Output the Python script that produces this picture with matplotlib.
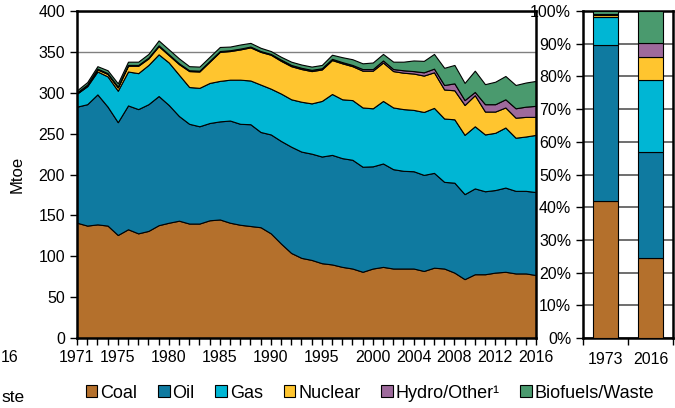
import numpy as np
import matplotlib.pyplot as plt
from matplotlib.patches import Patch

plt.rcParams['font.family'] = ['Liberation Sans', 'DejaVu Sans']

# %% datos (Mtoe)
anios = np.arange(1971, 2017)

carbon = [141, 137.5, 139, 137.5, 126, 133, 128, 131, 138, 141,
          143.5, 140, 140, 144, 145, 141, 138.5, 137, 135.5, 128,
          115.5, 104, 98, 95.5, 91.5, 90, 87, 85, 81, 85,
          87, 85, 85, 85, 82, 86, 85, 80, 72, 78,
          78, 80, 81, 79, 79, 77]
petroleo = [142, 148.5, 159, 145.5, 138, 151.5, 152, 155, 158, 144,
            128, 122, 119, 119, 120, 125, 123.5, 124.5, 116.5, 121,
            125.5, 130, 130, 130, 130.5, 134, 133, 133, 128.5, 125,
            126.5, 121.5, 119.5, 119, 117.5, 116, 106, 110, 104, 105,
            101.5, 101, 103, 101, 101, 101.5]
gas = [16, 22, 28, 37, 38.5, 41.5, 44, 48, 51, 52,
       50.5, 45, 47, 49, 49.5, 50, 54, 53.5, 58, 56,
       58, 58, 61, 61.5, 68, 74.5, 72, 73, 72.5, 71,
       76.5, 75.5, 75.5, 75, 77, 79.5, 77.5, 77.5, 72.5, 76,
       69.5, 70, 73.5, 65, 66.5, 70]
nuclear = [0.5, 1, 2.5, 3, 4, 7, 9, 8, 10, 9,
           13, 19.5, 20, 26, 35.5, 35, 37, 40.5, 40, 41.5,
           40, 40.5, 40, 39.5, 38.5, 41.5, 44, 41.5, 45, 46,
           47, 44.5, 44.5, 44.5, 44.5, 43.5, 35.5, 35.5, 36.5, 38,
           28, 26, 24.5, 24.5, 24, 22]
hidro = [1, 1, 1, 1, 1, 1, 1, 1, 1, 1,
         1, 1, 1, 1, 1, 1, 1, 1, 1, 1,
         1.5, 1.5, 1.5, 1.5, 1.5, 1.5, 1.5, 1.5, 2, 2,
         2.5, 2.5, 3, 3, 4, 4.5, 5.5, 8.5, 6, 4,
         9, 9, 10, 11.5, 12.5, 13.5]
biocomb = [2.5, 3, 3, 3.5, 4, 4, 4, 4.5, 6, 6,
           6, 5, 5, 5, 5, 4.5, 5, 4.5, 4, 3.5,
           3.5, 4, 4, 4, 4, 5, 6, 7, 7, 8,
           8, 9, 10.5, 13, 14, 18, 21, 22.5, 21, 26,
           24.5, 27.5, 28.5, 28.5, 29.5, 30.5]

nombres = ['Coal', 'Oil', 'Gas', 'Nuclear', 'Hydro/Other\u00b9', 'Biofuels/Waste']
colores = ['#B4702C', '#0F7AA0', '#00B6D4', '#FFC52F', '#9E6A9C', '#4A9A6E']

etiquetas_x = [1971, 1975, 1980, 1985, 1990, 1995, 2000, 2004, 2008, 2012, 2016]
anios_barras = [1973, 2016]

series = np.array([carbon, petroleo, gas, nuclear, hidro, biocomb])

# %% figura
fig = plt.figure(figsize=(6.75, 4.08), dpi=100)
ax = fig.add_axes([77/675, 1-338/408, 459/675, 327/408])
ax2 = fig.add_axes([583/675, 1-338/408, 90/675, 327/408])

# area apilada
ax.stackplot(anios, series, colors=colores, edgecolor='black', linewidth=0.8)
ax.set_xlim(1971, 2016)
ax.set_ylim(0, 400)
ax.set_yticks(np.arange(0, 401, 50))
ax.set_xticks(etiquetas_x)
ax.set_xticks(anios, minor=True)
ax.tick_params(axis='both', which='both', direction='out', length=5, width=1,
               labelsize=11.5, color='black')
ax.set_axisbelow(True)
ax.grid(axis='y', color='#808080', linewidth=1)
ax.set_ylabel('Mtoe', fontsize=12, labelpad=10)
for s in ax.spines.values():
    s.set_linewidth(1.8)

# barras de participacion 1973 y 2016
pos = np.arange(len(anios_barras))
idx = [anios.tolist().index(a) for a in anios_barras]
tot = series[:, idx].sum(axis=0)
base = np.zeros(len(anios_barras))
for serie, c in zip(series, colores):
    pct = np.array(serie)[idx] / tot * 100
    ax2.bar(pos, pct, bottom=base, width=0.56, color=c, edgecolor='black',
            linewidth=0.8, zorder=3)
    base = base + pct
ax2.set_xlim(-0.5, 1.5)
ax2.set_ylim(0, 100)
ax2.set_yticks(np.arange(0, 101, 10))
ax2.set_yticklabels(['%d%%' % v for v in range(0, 101, 10)])
ax2.set_xticks(pos)
ax2.set_xticklabels([str(a) for a in anios_barras])
ax2.set_xticks([-0.5, 0.5, 1.5], minor=True)
ax2.tick_params(axis='x', which='major', length=0, labelsize=11.5, pad=10)
ax2.tick_params(axis='x', which='minor', direction='out', length=5, width=1)
ax2.tick_params(axis='y', direction='out', length=5, width=1, labelsize=11.5)
ax2.grid(axis='y', color='#555555', linewidth=1.2, zorder=0)
for s in ax2.spines.values():
    s.set_linewidth(1.8)

# leyenda abajo
handles = [Patch(facecolor=c, edgecolor='black', linewidth=0.8) for c in colores]
fig.legend(handles, nombres, loc='center', bbox_to_anchor=(370/675, 1-393/408),
           ncol=6, frameon=False, fontsize=13, handlelength=0.65, handleheight=0.65,
           handletextpad=0.15, columnspacing=1.15, borderaxespad=0, borderpad=0)

# restos del grafico vecino que asoman en el borde izquierdo
fig.text(1/675, 1-357/408, '16', ha='left', va='center', fontsize=11.5)
fig.text(1/675, 1-397/408, 'ste', ha='left', va='center', fontsize=12.5)

plt.savefig('out.png', dpi=100)
